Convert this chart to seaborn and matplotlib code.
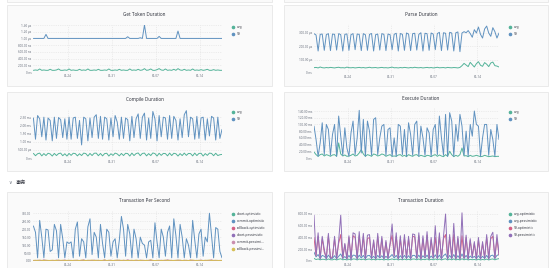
import numpy as np
import pandas as pd
import matplotlib
matplotlib.use("Agg")
import matplotlib.pyplot as plt
import seaborn as sns
from matplotlib.patches import Rectangle
from matplotlib.lines import Line2D

# ---------------- data (8-hour samples starting 2021-05-18 12:00) ----------------
START = "2021-05-18 12:00"
END = "2021-06-17 12:00"
X_TICKS = ["2021-05-24", "2021-05-31", "2021-06-07", "2021-06-14"]
X_TICK_LABELS = ["05-24", "05-31", "06-07", "06-14"]

# Get Token Duration (microseconds)
gettoken_avg = [0.05, 0.06, 0.05, 0.09, 0.05, 0.06, 0.05, 0.05, 0.08, 0.05,
                0.05, 0.06, 0.09, 0.05, 0.05, 0.06, 0.05, 0.09, 0.05, 0.06,
                0.05, 0.05, 0.08, 0.05, 0.06, 0.05, 0.09, 0.05, 0.05, 0.06,
                0.05, 0.08, 0.05, 0.05, 0.06, 0.05, 0.09, 0.05, 0.05, 0.06,
                0.05, 0.08, 0.05, 0.06, 0.05, 0.05, 0.09, 0.05, 0.06, 0.05,
                0.08, 0.05, 0.06, 0.10, 0.05, 0.06, 0.09, 0.05, 0.05, 0.07,
                0.10, 0.06, 0.05, 0.09, 0.05, 0.06, 0.05, 0.08, 0.05, 0.10,
                0.06, 0.05, 0.08, 0.05, 0.06, 0.05, 0.09, 0.05, 0.06, 0.05,
                0.07, 0.05, 0.06, 0.08, 0.05, 0.05, 0.07, 0.05, 0.06, 0.05,
                0.05]
gettoken_99 = [1.00, 1.00, 1.00, 1.00, 1.00, 1.00, 1.12, 1.00, 1.00, 1.00,
               1.00, 1.00, 1.00, 1.00, 1.00, 1.00, 1.00, 1.00, 1.00, 1.00,
               1.00, 1.00, 1.00, 1.00, 1.00, 1.00, 1.00, 1.00, 1.00, 1.00,
               1.00, 1.00, 1.00, 1.00, 1.00, 1.00, 1.00, 1.00, 1.00, 1.00,
               1.00, 1.00, 1.00, 1.00, 1.00, 1.05, 1.00, 1.00, 1.00, 1.00,
               1.00, 1.02, 1.00, 1.40, 1.00, 1.00, 1.00, 1.00, 1.00, 1.00,
               1.06, 1.00, 1.00, 1.00, 1.00, 1.00, 1.00, 1.00, 1.00, 1.22,
               1.00, 1.00, 1.00, 1.00, 1.00, 1.00, 1.00, 1.00, 1.00, 1.00,
               1.00, 1.00, 1.00, 1.00, 1.00, 1.00, 1.00, 1.00, 1.00, 1.00,
               1.00]

# Parse Duration (microseconds)
parse_avg = [40, 42, 38, 45, 40, 38, 41, 39, 42, 40,
             38, 41, 43, 39, 40, 38, 44, 40, 39, 41,
             38, 40, 42, 39, 41, 38, 40, 43, 39, 40,
             41, 38, 40, 42, 39, 40, 38, 41, 44, 39,
             40, 38, 41, 39, 42, 40, 38, 41, 39, 43,
             40, 39, 41, 38, 40, 42, 39, 41, 38, 40,
             43, 39, 40, 41, 38, 42, 40, 39, 41, 40,
             38, 42, 55, 72, 60, 48, 80, 62, 45, 70,
             85, 58, 50, 78, 66, 48, 75, 82, 55, 52,
             45]
parse_99 = [295, 285, 165, 290, 292, 170, 288, 295, 168,
            292, 290, 172, 295, 288, 165, 290, 293, 170,
            288, 295, 175, 292, 290, 168, 295, 287, 170,
            290, 296, 165, 288, 292, 172, 295, 290, 168,
            292, 288, 175, 290, 298, 165, 296, 290, 170,
            300, 292, 168, 295, 298, 172, 290, 302, 165,
            298, 295, 170, 300, 292, 175, 296, 305, 168,
            302, 298, 172, 305, 300, 165, 302, 308, 160,
            300, 310, 302, 318, 296, 268, 325, 300, 345, 290,
            262, 330, 352, 300, 275, 340, 310, 262, 300]

# Compile Duration (milliseconds)
compile_avg = [0.28, 0.14, 0.26, 0.30, 0.13, 0.27, 0.15, 0.29, 0.25, 0.12,
               0.28, 0.15, 0.27, 0.30, 0.14, 0.26, 0.12, 0.28, 0.16, 0.29,
               0.27, 0.13, 0.26, 0.15, 0.30, 0.27, 0.12, 0.28, 0.15, 0.29,
               0.30, 0.14, 0.28, 0.13, 0.27, 0.29, 0.12, 0.26, 0.16, 0.30,
               0.25, 0.13, 0.28, 0.15, 0.29, 0.27, 0.12, 0.30, 0.15, 0.27,
               0.31, 0.14, 0.28, 0.30, 0.13, 0.27, 0.15, 0.31, 0.27, 0.12,
               0.29, 0.16, 0.28, 0.27, 0.13, 0.30, 0.15, 0.29, 0.26, 0.12,
               0.27, 0.15, 0.30, 0.16, 0.28, 0.27, 0.13, 0.30, 0.15, 0.28,
               0.29, 0.12, 0.27, 0.16, 0.30, 0.28, 0.14, 0.29, 0.15, 0.20,
               0.22]
compile_99 = [2.45, 1.15, 2.60, 2.40, 1.30, 2.50, 1.10, 2.45, 2.30, 1.05,
              2.50, 1.20, 2.48, 2.35, 1.25, 2.40, 1.15, 2.50, 1.15, 2.45,
              2.50, 1.20, 2.30, 0.80, 2.50, 2.40, 1.05, 2.45, 1.25, 2.50,
              2.65, 1.20, 2.55, 1.15, 2.50, 2.40, 1.10, 2.45, 1.30, 2.60,
              2.20, 1.15, 2.50, 1.20, 2.45, 2.35, 1.05, 2.55, 1.25, 2.40,
              2.70, 1.20, 2.50, 2.75, 1.10, 2.45, 1.20, 2.85, 2.40, 1.05,
              2.60, 1.30, 2.50, 2.45, 1.15, 2.60, 1.20, 2.55, 2.30, 1.10,
              2.40, 1.25, 2.65, 2.90, 1.30, 2.50, 2.40, 1.15, 2.55, 1.20,
              2.45, 2.50, 1.10, 2.40, 1.35, 2.55, 2.45, 1.10, 2.50, 1.20,
              1.75]

# Execute Duration (milliseconds)
execute_avg = [18, 10, 5, 10, 12, 6, 10, 8, 5, 9,
               10, 5, 45, 12, 6, 9, 5, 6, 8, 12,
               6, 8, 15, 25, 12, 5, 10, 8, 5, 12,
               10, 6, 8, 12, 10, 5, 8, 10, 5, 6,
               5, 9, 10, 5, 8, 4, 10, 7, 5, 9,
               10, 5, 8, 6, 4, 8, 7, 4, 8, 10,
               5, 9, 6, 4, 10, 5, 20, 10, 4, 8,
               5, 10, 30, 6, 7, 4, 8, 5, 6, 8,
               6, 4, 5, 8, 6, 4, 5, 6, 4, 5,
               5]
execute_99 = [95, 55, 5, 45, 105, 10, 100, 85, 8, 70,
              100, 5, 125, 65, 8, 90, 30, 5, 75, 110,
              10, 60, 142, 15, 115, 5, 110, 80, 8, 115,
              120, 10, 60, 95, 100, 8, 85, 90, 5, 60,
              5, 100, 95, 10, 85, 5, 105, 70, 8, 100,
              110, 5, 95, 60, 8, 90, 75, 5, 85, 100,
              10, 125, 60, 8, 130, 5, 135, 110, 5, 100,
              50, 130, 95, 8, 80, 5, 100, 65, 140, 100,
              95, 5, 60, 100, 100, 8, 85, 55, 5, 100,
              55]

# Transaction Per Second
tps_abort_opt = [0, 0, 1, 0, 0, 0, 1, 0, 0, 0,
                 0, 1, 0, 0, 0, 0, 1, 0, 0, 0,
                 1, 0, 0, 0, 0, 1, 0, 0, 0, 1,
                 0, 0, 0, 1, 0, 0, 0, 0, 1, 0,
                 0, 0, 1, 0, 0, 0, 1, 0, 0, 0,
                 0, 1, 0, 0, 0, 1, 0, 0, 0, 0,
                 1, 0, 0, 0, 1, 0, 0, 0, 0, 1,
                 0, 0, 0, 1, 0, 0, 0, 1, 0, 0,
                 0, 0, 1, 0, 0, 0, 1, 0, 0, 0,
                 0]
tps_commit_opt = [220, 180, 20, 255, 150, 20, 200, 195, 60, 70,
                  230, 190, 20, 230, 140, 20, 120, 110, 120, 20,
                  200, 245, 30, 140, 120, 20, 215, 265, 40, 180,
                  150, 20, 230, 110, 20, 200, 180, 30, 120, 140,
                  20, 130, 280, 200, 30, 230, 170, 20, 200, 140,
                  20, 150, 110, 100, 20, 120, 130, 20, 240, 120,
                  20, 200, 150, 30, 180, 220, 20, 265, 160, 20,
                  230, 150, 20, 140, 100, 20, 255, 130, 20, 170,
                  200, 30, 150, 120, 300, 160, 20, 210, 200, 60,
                  20]
tps_rollback_opt = [2, 1, 3, 2, 1, 2, 4, 1, 2, 3,
                    1, 2, 2, 1, 3, 2, 1, 2, 4, 1,
                    2, 3, 1, 2, 2, 1, 3, 2, 1, 2,
                    4, 1, 2, 3, 1, 2, 2, 1, 3, 2,
                    1, 2, 4, 1, 2, 3, 1, 2, 2, 1,
                    3, 2, 1, 2, 4, 1, 2, 3, 1, 2,
                    2, 1, 3, 2, 1, 2, 4, 1, 2, 3,
                    1, 2, 2, 1, 3, 2, 1, 2, 4, 1,
                    2, 3, 1, 2, 2, 1, 3, 2, 1, 2,
                    2]
tps_abort_pes = [0, 1, 0, 0, 0, 1, 0, 0, 0, 0,
                 1, 0, 0, 0, 1, 0, 0, 0, 0, 1,
                 0, 0, 1, 0, 0, 0, 0, 1, 0, 0,
                 0, 1, 0, 0, 0, 0, 1, 0, 0, 0,
                 1, 0, 0, 0, 0, 1, 0, 0, 0, 1,
                 0, 0, 0, 1, 0, 0, 0, 0, 1, 0,
                 0, 0, 1, 0, 0, 0, 1, 0, 0, 0,
                 0, 1, 0, 0, 0, 0, 1, 0, 0, 1,
                 0, 0, 0, 1, 0, 0, 0, 0, 1, 0,
                 0]
tps_commit_pes = [3, 2, 5, 3, 2, 8, 3, 2, 4, 3,
                  2, 6, 3, 2, 3, 7, 2, 3, 4, 2,
                  3, 5, 2, 3, 8, 2, 3, 4, 2, 6,
                  3, 2, 4, 3, 7, 2, 3, 5, 2, 3,
                  6, 2, 3, 4, 2, 8, 3, 2, 4, 3,
                  2, 6, 3, 2, 4, 3, 7, 2, 3, 4,
                  2, 5, 3, 2, 8, 3, 2, 4, 3, 6,
                  2, 3, 5, 2, 3, 7, 2, 3, 4, 2,
                  6, 3, 2, 4, 3, 8, 2, 3, 4, 2,
                  3]
tps_rollback_pes = [4, 5, 3, 6, 4, 3, 5, 4, 3, 5,
                    4, 3, 6, 4, 5, 3, 4, 5, 3, 4,
                    5, 4, 3, 6, 4, 3, 5, 4, 6, 3,
                    4, 5, 3, 4, 6, 3, 5, 4, 3, 5,
                    4, 6, 3, 5, 4, 3, 4, 5, 3, 6,
                    4, 3, 5, 4, 3, 5, 6, 4, 3, 4,
                    5, 3, 4, 6, 3, 5, 4, 3, 5, 4,
                    6, 3, 4, 5, 3, 4, 6, 4, 3, 5,
                    4, 3, 5, 4, 6, 3, 4, 5, 3, 4,
                    4]

# Transaction Duration (milliseconds)
txn_avg_opt = [45, 25, 35, 20, 30, 28, 18, 35, 22, 20,
               32, 18, 30, 38, 20, 28, 18, 32, 18, 35,
               33, 18, 35, 22, 33, 18, 30, 34, 20, 30,
               18, 33, 22, 30, 18, 28, 20, 26, 36, 22,
               33, 18, 30, 20, 33, 20, 30, 18, 34, 33,
               20, 35, 18, 30, 22, 36, 18, 30, 20, 35,
               20, 34, 18, 30, 38, 18, 33, 20, 36, 18,
               30, 18, 38, 20, 33, 18, 28, 22, 26, 18,
               30, 18, 26, 20, 33, 18, 30, 35, 20, 33,
               40]
txn_avg_pes = [150, 70, 110, 40, 95, 80, 40, 100, 50, 45,
               90, 40, 80, 120, 45, 75, 40, 95, 40, 100,
               95, 40, 100, 50, 95, 40, 90, 95, 45, 80,
               40, 95, 50, 90, 40, 80, 45, 75, 110, 50,
               95, 40, 90, 45, 95, 45, 90, 40, 95, 95,
               45, 100, 40, 90, 50, 100, 40, 85, 45, 105,
               45, 100, 40, 90, 120, 40, 95, 45, 110, 40,
               90, 40, 120, 45, 95, 40, 85, 50, 80, 40,
               90, 40, 80, 45, 95, 40, 90, 100, 45, 95,
               110]
txn_99_opt = [400, 90, 420, 60, 380, 150, 60, 430, 60, 70,
              380, 50, 300, 450, 60, 280, 50, 400, 60, 430,
              400, 60, 430, 90, 420, 50, 380, 400, 60, 330,
              50, 420, 80, 380, 60, 320, 60, 280, 440, 90,
              420, 50, 380, 60, 400, 60, 380, 50, 420, 410,
              60, 430, 50, 380, 80, 440, 50, 360, 70, 400,
              60, 420, 50, 380, 450, 50, 400, 60, 450, 50,
              380, 50, 430, 60, 400, 50, 350, 80, 300, 50,
              360, 50, 300, 60, 400, 50, 380, 420, 60, 380,
              100]
txn_99_pes = [780, 100, 480, 30, 420, 200, 30, 470, 40, 60,
              420, 30, 350, 780, 40, 300, 30, 430, 20, 480,
              460, 30, 500, 80, 470, 30, 440, 450, 40, 360,
              30, 470, 60, 420, 30, 350, 40, 300, 630, 80,
              480, 30, 430, 30, 450, 40, 420, 30, 460, 450,
              40, 480, 30, 430, 60, 500, 30, 400, 50, 600,
              40, 480, 30, 420, 800, 30, 450, 40, 640, 30,
              420, 30, 820, 40, 440, 30, 380, 60, 330, 30,
              400, 30, 330, 40, 450, 30, 420, 490, 40, 450,
              120]

GREEN, BLUE, RED, PURPLE, PINK, YELLOW = "#54B399", "#6092C0", "#D36086", "#9170B8", "#CA8EAE", "#D6BF57"

# ---------------- figure ----------------
W, H = 554, 268
sns.set_theme(style="white")
plt.rcParams["font.family"] = ["Noto Sans", "DejaVu Sans"]
fig = plt.figure(figsize=(W / 100, H / 100), dpi=100)
fig.patch.set_facecolor("white")


def frame(x0, y0, x1, y1):
    fig.patches.append(Rectangle((x0 / W, 1 - y1 / H), (x1 - x0) / W, (y1 - y0) / H,
                                 transform=fig.transFigure, facecolor="#fafafa",
                                 edgecolor="#e3e3e3", lw=0.5, zorder=-5))


def to_df(named):
    parts = []
    for name, vals in named:
        t = pd.date_range(START, periods=len(vals), freq="8h")
        parts.append(pd.DataFrame({"time": t, "value": vals, "series": name}))
    return pd.concat(parts, ignore_index=True)


def panel(card, title, title_x, title_y, box, ylim, yticks, ylabels, named, colors,
          leg_x, leg_y):
    frame(*card)
    fig.text(title_x / W, 1 - title_y / H, title, ha="center", va="center",
             fontsize=3.3, fontweight="bold", color="#343741")
    x0, y0, x1, y1 = box
    ax = fig.add_axes([x0 / W, 1 - y1 / H, (x1 - x0) / W, (y1 - y0) / H])
    ax.set_zorder(2)
    ax.set_facecolor("none")
    df = to_df(named)
    order = [n for n, _ in named]
    sns.lineplot(data=df, x="time", y="value", hue="series", hue_order=order,
                 palette=dict(zip(order, colors)), ax=ax, legend=False,
                 linewidth=0.7, estimator=None)
    ax.set_xlim(pd.Timestamp(START), pd.Timestamp(END))
    ax.set_ylim(*ylim)
    ax.set_yticks(yticks, ylabels)
    ax.set_xticks([pd.Timestamp(t) for t in X_TICKS], X_TICK_LABELS)
    ax.set_xlabel("")
    ax.set_ylabel("")
    for s in ax.spines.values():
        s.set_visible(False)
    ax.tick_params(axis="both", length=0, labelsize=2.2, labelcolor="#69707d", pad=1.5)
    ax.grid(True, color="#e0e0e0", lw=0.4, ls=(0, (2, 2)))
    ax.set_axisbelow(True)
    for i, (name, _) in enumerate(named):
        yy = 1 - (leg_y + 7 * i) / H
        fig.add_artist(Line2D([leg_x / W], [yy], marker="o", ms=1.6, color=colors[i],
                              lw=0, transform=fig.transFigure))
        fig.text((leg_x + 4) / W, yy, name, fontsize=2.4, va="center", ha="left",
                 color="#343741")
    return ax


# cards from rows above (cut off)
frame(7, -20, 272, 1.5)
frame(284, -20, 548, 1.5)

panel((7, 5, 272, 86), "Get Token Duration", 144, 14, (33.4, 25, 222, 72),
      (0, 1.4), [0, 0.2, 0.4, 0.6, 0.8, 1.0, 1.2, 1.4],
      ["0 ns", "200.00 ns", "400.00 ns", "600.00 ns", "800.00 ns", "1.00 µs", "1.20 µs", "1.40 µs"],
      [("avg", gettoken_avg), ("99", gettoken_99)], [GREEN, BLUE], 233, 27)

panel((284, 5, 548, 86), "Parse Duration", 421, 14, (314, 24, 499, 73),
      (0, 367.5), [0, 100, 200, 300],
      ["0 ns", "100.00 µs", "200.00 µs", "300.00 µs"],
      [("avg", parse_avg), ("99", parse_99)], [GREEN, BLUE], 510, 27)

panel((7, 92, 272, 171), "Compile Duration", 145, 99, (33.4, 109, 222, 158),
      (0, 3.0), [0, 0.5, 1.0, 1.5, 2.0, 2.5],
      ["0 ns", "500.00 µs", "1.00 ms", "1.50 ms", "2.00 ms", "2.50 ms"],
      [("avg", compile_avg), ("99", compile_99)], [GREEN, BLUE], 233, 112)

panel((284, 92, 548, 171), "Execute Duration", 421, 99, (314, 108, 499, 158),
      (0, 149), [0, 20, 40, 60, 80, 100, 120, 140],
      ["0 ns", "20.00 ms", "40.00 ms", "60.00 ms", "80.00 ms", "100.00 ms", "120.00 ms", "140.00 ms"],
      [("avg", execute_avg), ("99", execute_99)], [GREEN, BLUE], 510, 112)

panel((7, 192, 272, 300), "Transaction Per Second", 144, 201, (33.4, 211, 222, 261),
      (0, 314), [0, 50, 100, 150, 200, 250, 300],
      ["0.00", "50.00", "100.00", "150.00", "200.00", "250.00", "300.00"],
      [("abort-optimistic", tps_abort_opt), ("commit-optimistic", tps_commit_opt),
       ("rollback-optimistic", tps_rollback_opt), ("abort-pessimistic", tps_abort_pes),
       ("commit-pessimi...", tps_commit_pes), ("rollback-pessimi...", tps_rollback_pes)],
      [GREEN, BLUE, RED, PURPLE, PINK, YELLOW], 233, 214)

panel((284, 192, 548, 300), "Transaction Duration", 421, 201, (314, 211, 499, 261),
      (0, 851), [0, 200, 400, 600, 800],
      ["0 ns", "200.00 ms", "400.00 ms", "600.00 ms", "800.00 ms"],
      [("avg-optimistic", txn_avg_opt), ("avg-pessimistic", txn_avg_pes),
       ("99-optimistic", txn_99_opt), ("99-pessimistic", txn_99_pes)],
      [GREEN, BLUE, RED, PURPLE], 510, 214)

# section header
fig.text(10 / W, 1 - 182 / H, "∨", fontsize=3.4, color="#69707d", va="center", ha="center",
         family=["DejaVu Sans"])
fig.text(16 / W, 1 - 182 / H, "事务", fontsize=3.8, color="#343741", va="center", ha="left",
         family=["Noto Sans CJK SC", "DejaVu Sans"])

fig.savefig("out.png", dpi=100, facecolor="white")
